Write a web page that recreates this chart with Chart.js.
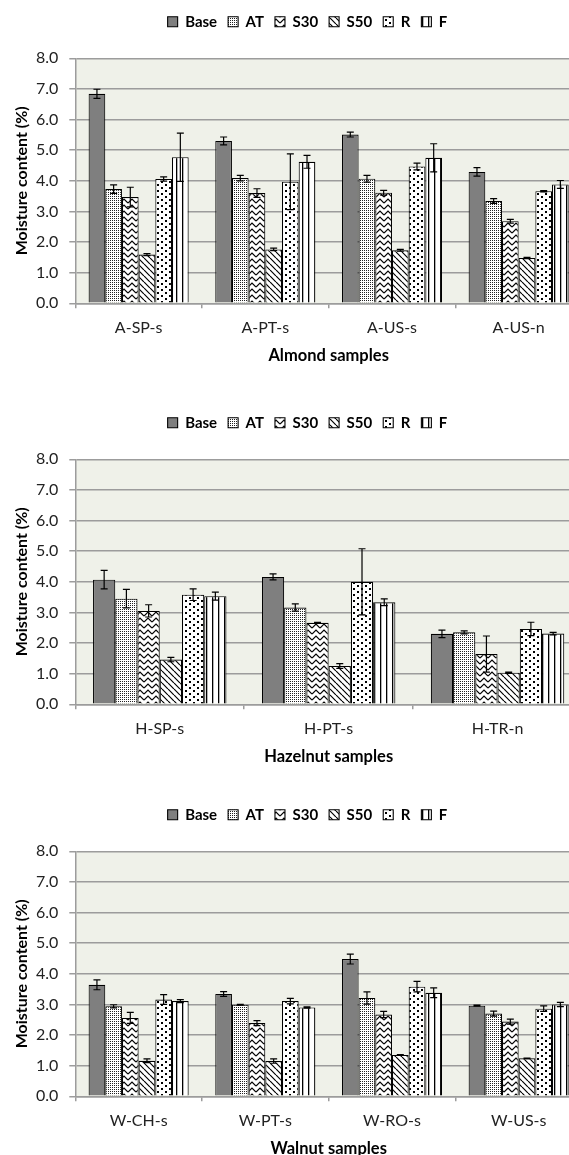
<!DOCTYPE html>
<html><head><meta charset="utf-8">
<script src="https://cdn.jsdelivr.net/npm/chart.js@4.4.1/dist/chart.umd.min.js"></script>
<style>
html,body{margin:0;padding:0;background:#fff;width:569px;height:1155px;overflow:hidden;position:relative;}
canvas{position:absolute;left:0;}
</style></head><body>
<canvas id="c1" width="615" height="370" style="top:0px"></canvas>
<canvas id="c2" width="615" height="370" style="top:401px"></canvas>
<canvas id="c3" width="615" height="370" style="top:793px"></canvas>
<script>
// ---------- DATA ----------
const seriesNames = ['Base', 'AT', 'S30', 'S50', 'R', 'F'];
const yTicks = [0, 1, 2, 3, 4, 5, 6, 7, 8];

const almondCats = ['A-SP-s', 'A-PT-s', 'A-US-s', 'A-US-n'];
const almondBase = [6.84, 5.30, 5.51, 4.29];
const almondAT   = [3.73, 4.09, 4.07, 3.34];
const almondS30  = [3.47, 3.60, 3.61, 2.68];
const almondS50  = [1.59, 1.76, 1.73, 1.48];
const almondR    = [4.06, 3.97, 4.47, 3.66];
const almondF    = [4.77, 4.62, 4.75, 3.88];
const almondBaseErr = [0.15, 0.13, 0.08, 0.14];
const almondATErr   = [0.14, 0.09, 0.11, 0.08];
const almondS30Err  = [0.32, 0.14, 0.08, 0.06];
const almondS50Err  = [0.03, 0.04, 0.03, 0.02];
const almondRErr    = [0.07, 0.91, 0.11, 0.02];
const almondFErr    = [0.79, 0.21, 0.46, 0.13];

const hazelCats = ['H-SP-s', 'H-PT-s', 'H-TR-n'];
const hazelBase = [4.07, 4.16, 2.30];
const hazelAT   = [3.45, 3.16, 2.35];
const hazelS30  = [3.05, 2.66, 1.64];
const hazelS50  = [1.46, 1.25, 1.03];
const hazelR    = [3.58, 4.00, 2.46];
const hazelF    = [3.53, 3.33, 2.31];
const hazelBaseErr = [0.30, 0.10, 0.12];
const hazelATErr   = [0.30, 0.12, 0.05];
const hazelS30Err  = [0.20, 0.02, 0.59];
const hazelS50Err  = [0.07, 0.08, 0.02];
const hazelRErr    = [0.19, 1.08, 0.22];
const hazelFErr    = [0.13, 0.11, 0.04];

const walnutCats = ['W-CH-s', 'W-PT-s', 'W-RO-s', 'W-US-s'];
const walnutBase = [3.64, 3.34, 4.48, 2.96];
const walnutAT   = [2.94, 2.99, 3.21, 2.70];
const walnutS30  = [2.56, 2.39, 2.67, 2.44];
const walnutS50  = [1.16, 1.15, 1.35, 1.24];
const walnutR    = [3.16, 3.11, 3.58, 2.86];
const walnutF    = [3.11, 2.90, 3.38, 3.00];
const walnutBaseErr = [0.16, 0.08, 0.16, 0.02];
const walnutATErr   = [0.05, 0.01, 0.20, 0.08];
const walnutS30Err  = [0.18, 0.08, 0.10, 0.08];
const walnutS50Err  = [0.06, 0.07, 0.01, 0.01];
const walnutRErr    = [0.16, 0.09, 0.17, 0.09];
const walnutFErr    = [0.05, 0.02, 0.16, 0.07];

// ---------- PATTERNS ----------
function makePattern(w, h, draw) {
  const c = document.createElement('canvas');
  c.width = w; c.height = h;
  const x = c.getContext('2d');
  x.fillStyle = '#ffffff'; x.fillRect(0, 0, w, h);
  x.fillStyle = '#000000'; x.strokeStyle = '#000000';
  draw(x);
  return c.getContext('2d').createPattern(c, 'repeat');
}
const fills = [
  '#7f7f7f',
  makePattern(4, 4, x => { x.fillStyle = '#222'; x.fillRect(0,0,1,1); x.fillRect(2,0,1,1); x.fillRect(0,2,1,1); x.fillRect(2,2,1,1); }),
  makePattern(8, 6, x => { x.lineWidth = 1.2; x.beginPath(); x.moveTo(0,5); x.lineTo(4,1); x.lineTo(8,5); x.stroke(); }),
  makePattern(6, 6, x => { x.lineWidth = 1.2; x.beginPath(); for (let k=-1;k<=1;k++){ x.moveTo(k*6,0); x.lineTo(k*6+6,6);} x.stroke(); }),
  makePattern(8, 6, x => { x.fillRect(1,1,2,2); x.fillRect(5,4,2,2); }),
  makePattern(6, 1, x => { x.fillRect(2,0,1.3,1); })
];

// ---------- PLUGINS ----------
const bgPlugin = {
  id: 'plotBg',
  beforeDraw(chart) {
    const {ctx, chartArea: a} = chart;
    ctx.save(); ctx.fillStyle = '#eff1e9';
    ctx.fillRect(a.left, a.top, a.right - a.left, a.bottom - a.top);
    ctx.restore();
  }
};
const errPlugin = {
  id: 'errBars',
  afterDatasetsDraw(chart) {
    const ctx = chart.ctx, ys = chart.scales.y;
    chart.data.datasets.forEach((ds, i) => {
      const meta = chart.getDatasetMeta(i);
      meta.data.forEach((el, j) => {
        const v = ds.data[j], e = ds.errors[j];
        const y1 = ys.getPixelForValue(v + e), y2 = ys.getPixelForValue(v - e);
        const x = el.x;
        ctx.save(); ctx.strokeStyle = '#000'; ctx.lineWidth = 1.2;
        ctx.beginPath();
        ctx.moveTo(x, y1); ctx.lineTo(x, y2);
        ctx.moveTo(x - 3.5, y1); ctx.lineTo(x + 3.5, y1);
        ctx.moveTo(x - 3.5, y2); ctx.lineTo(x + 3.5, y2);
        ctx.stroke(); ctx.restore();
      });
    });
  }
};

const FONT = 'Lato, "Open Sans", sans-serif';
const GRID = '#9c9c9c';

function build(id, cats, vals, errs, xTitle) {
  const datasets = seriesNames.map((n, i) => ({
    label: n, data: vals[i], errors: errs[i],
    backgroundColor: fills[i], borderColor: '#000', borderWidth: 1.1,
    barPercentage: 1.0, categoryPercentage: 0.79
  }));
  new Chart(document.getElementById(id), {
    type: 'bar',
    data: { labels: cats, datasets },
    plugins: [bgPlugin, errPlugin],
    options: {
      responsive: false, animation: false, devicePixelRatio: 1,
      layout: { padding: { top: 3.2, right: 0, bottom: 0, left: 0 } },
      plugins: {
        legend: {
          position: 'top',
          labels: { boxWidth: 10, boxHeight: 10, padding: 11, color: '#000',
                    font: { family: FONT, size: 15, weight: 'bold' } }
        },
        title: { display: true, text: ' ', weight: 500, font: { size: 1 }, padding: { top: 17.9, bottom: 0 } },
        tooltip: { enabled: false }
      },
      scales: {
        x: {
          grid: { display: true, drawOnChartArea: false, drawTicks: true, tickLength: 5, color: GRID, lineWidth: 1.5 },
          border: { display: true, color: GRID, width: 1.5 },
          ticks: { color: '#222', padding: 10, font: { family: FONT, size: 16 } },
          title: { display: true, text: xTitle, color: '#000', padding: { top: 4, bottom: 4.8 },
                   font: { family: FONT, size: 16.5, weight: 'bold' } },
          afterFit(s) { s.height = 66.7; }
        },
        y: {
          min: 0, max: 8,
          afterBuildTicks(s) { s.ticks = yTicks.map(v => ({ value: v })); },
          grid: { color: GRID, lineWidth: 1.5, tickLength: 6, drawTicks: true },
          border: { display: true, color: GRID, width: 1.5 },
          ticks: { color: '#222', padding: 11, font: { family: FONT, size: 16 },
                   callback: v => Number(v).toFixed(1) },
          title: { display: true, text: 'Moisture content (%)', color: '#000',
                   padding: { top: 12.1, bottom: 4 }, font: { family: FONT, size: 16, weight: 'bold' } },
          afterFit(s) { s.width = 75.3; }
        },
        yRight: {
          type: 'linear', position: 'right', display: true,
          grid: { display: false, drawTicks: false },
          border: { display: false },
          ticks: { display: false },
          afterFit(s) { s.width = 33; }
        }
      }
    }
  });
}

build('c1', almondCats,
  [almondBase, almondAT, almondS30, almondS50, almondR, almondF],
  [almondBaseErr, almondATErr, almondS30Err, almondS50Err, almondRErr, almondFErr],
  'Almond samples');
build('c2', hazelCats,
  [hazelBase, hazelAT, hazelS30, hazelS50, hazelR, hazelF],
  [hazelBaseErr, hazelATErr, hazelS30Err, hazelS50Err, hazelRErr, hazelFErr],
  'Hazelnut samples');
build('c3', walnutCats,
  [walnutBase, walnutAT, walnutS30, walnutS50, walnutR, walnutF],
  [walnutBaseErr, walnutATErr, walnutS30Err, walnutS50Err, walnutRErr, walnutFErr],
  'Walnut samples');
</script>
</body></html>
